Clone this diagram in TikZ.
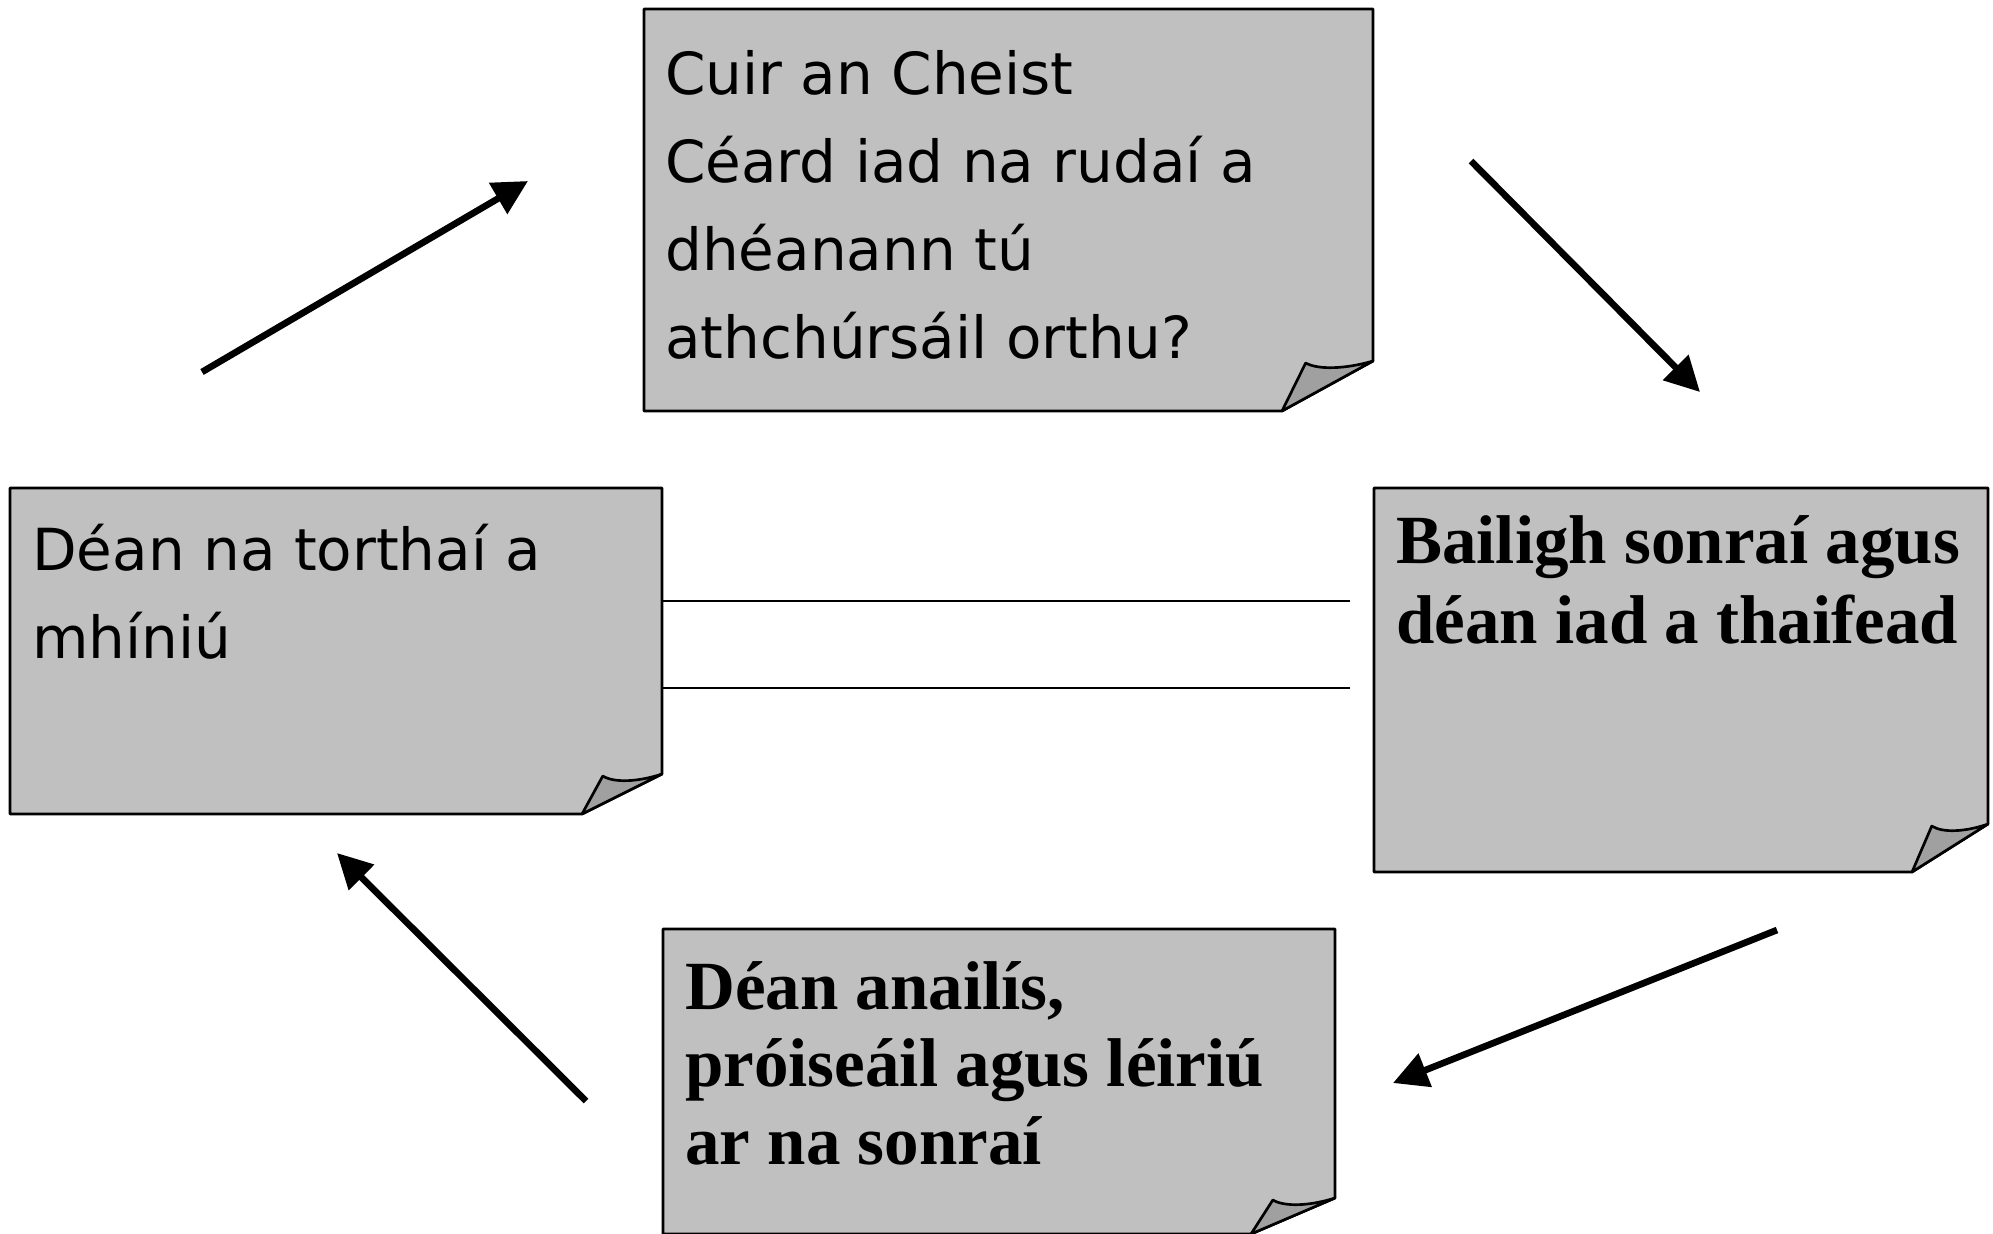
\documentclass[tikz,border=0pt]{standalone}
\usepackage{fontspec}
\setmainfont{Liberation Serif}
\newfontfamily\handfont{DejaVu Sans}
\usetikzlibrary{arrows.meta}
\definecolor{notefill}{HTML}{C0C0C0}
\definecolor{flapfill}{HTML}{A0A0A0}
\tikzset{
  notebody/.style={fill=notefill, draw=black, line width=2pt, line join=round},
  noteflap/.style={fill=flapfill, draw=black, line width=2pt, line join=round},
  hand/.style={anchor=base west, align=left, inner sep=0pt, font=\handfont\fontsize{43.5pt}{66pt}\selectfont},
  serifbold/.style={anchor=base west, align=left, inner sep=0pt, font=\bfseries\fontsize{51.75pt}{60pt}\selectfont},
  flowarrow/.style={line width=5pt, -{Triangle[length=26pt,width=26pt]}},
  ruleline/.style={line width=1.5pt}
}
\newcommand\notebox[7]{%
  \path[notebody] (#2,#3) -- (#4,#3) -- (#4,{#5-#7}) -- ({#4-#6},#5) -- (#2,#5) -- cycle;
  \path[noteflap] ({#4-#6},#5) -- ({#4-0.74*#6},{#5-#7+2}) .. controls ({#4-0.6*#6},{#5-#7+9}) and ({#4-0.3*#6},{#5-#7+8}) .. (#4,{#5-#7}) -- cycle;
  \coordinate (#1) at ({(#2+#4)/2},{(#3+#5)/2});
}
\begin{document}
\begin{tikzpicture}[x=0.75pt, y=-0.75pt]
\useasboundingbox (0,0) rectangle (1993,1233);
\clip (0,0) rectangle (1993,1233);

\notebox{topbox}{644}{9}{1373}{411}{91}{50}
\notebox{leftbox}{10}{488}{662}{814}{80}{40}
\notebox{rightbox}{1374}{488}{1988}{872}{76}{48}
\notebox{bottombox}{663}{929}{1335}{1234}{84}{36}

\node[hand] (toptext) at (665,358) {Cuir an Cheist\\Céard iad na rudaí a\\dhéanann tú\\athchúrsáil orthu?};
\node[hand] (lefttext) at (32,658) {Déan na torthaí a\\mhíniú};
\node[serifbold] (righttext) at (1396,643) {Bailigh sonraí agus\\déan iad a thaifead};
\node[serifbold, font=\bfseries\fontsize{51.75pt}{58pt}\selectfont] (bottomtext) at (685,1164) {Déan anailís,\\próiseáil agus léiriú\\ar na sonraí};

\coordinate (a1s) at (202,372);  \coordinate (a1e) at (528,181);
\coordinate (a2s) at (1471,161); \coordinate (a2e) at (1700,392);
\coordinate (a3s) at (1777,930); \coordinate (a3e) at (1393,1083);
\coordinate (a4s) at (586,1101); \coordinate (a4e) at (337,853);
\draw[flowarrow] (a1s) -- (a1e);
\draw[flowarrow] (a2s) -- (a2e);
\draw[flowarrow] (a3s) -- (a3e);
\draw[flowarrow] (a4s) -- (a4e);

\coordinate (l1s) at (662,601); \coordinate (l1e) at (1350,601);
\coordinate (l2s) at (662,688); \coordinate (l2e) at (1350,688);
\draw[ruleline] (l1s) -- (l1e);
\draw[ruleline] (l2s) -- (l2e);
\end{tikzpicture}
\end{document}
